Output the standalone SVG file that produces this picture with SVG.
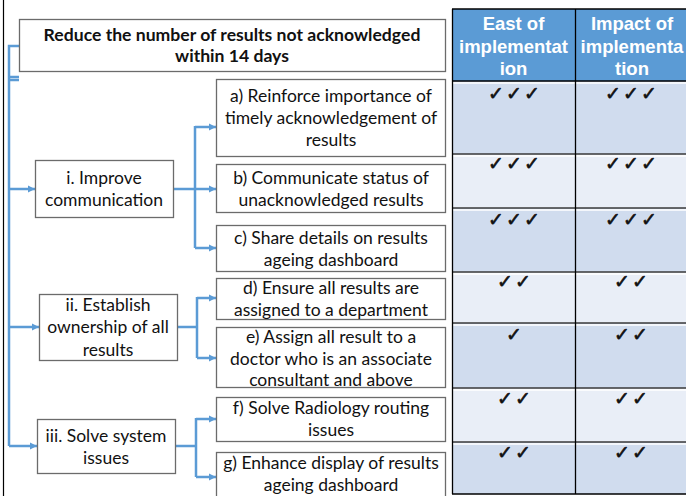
<svg xmlns="http://www.w3.org/2000/svg" width="686" height="496" viewBox="0 0 686 496">
<defs>
<marker id="ah" markerWidth="8" markerHeight="8" refX="7" refY="4" orient="auto" markerUnits="userSpaceOnUse">
<path d="M0,0.5 L7,4 L0,7.5 Z" fill="#5B9BD5"/>
</marker>
<style>
.box{fill:#fff;stroke:#6b6b6b;stroke-width:1.3}
.t{font-family:Lato,"Liberation Sans",sans-serif;font-size:17.5px;fill:#111;text-anchor:middle}
.tb{font-family:Lato,"Liberation Sans",sans-serif;font-size:17.6px;font-weight:bold;fill:#111;text-anchor:middle}
.hd{font-family:"Liberation Sans",Arial,sans-serif;font-size:18.5px;font-weight:bold;fill:#fff;text-anchor:middle}
.ck{font-family:"DejaVu Sans",sans-serif;font-size:19px;fill:#111;stroke:#111;stroke-width:0.6;text-anchor:middle;letter-spacing:2px}
.c{fill:none;stroke:#5B9BD5;stroke-width:2.5}
.ca{fill:none;stroke:#5B9BD5;stroke-width:2.5;marker-end:url(#ah)}
.dk{fill:#D0DCEE}
.lt{fill:#E9EEF7}
</style>
</defs>
<rect width="686" height="496" fill="#fff"/>
<line x1="3.5" y1="0" x2="3.5" y2="496" stroke="#000" stroke-width="1.2"/>

<g id="table">
<rect x="452" y="9" width="236" height="72" fill="#5B9BD5"/>
<rect class="dk" x="452" y="81" width="236" height="73"/>
<rect class="lt" x="452" y="154" width="236" height="54"/>
<rect class="dk" x="452" y="208" width="236" height="64"/>
<rect class="lt" x="452" y="272" width="236" height="51"/>
<rect class="dk" x="452" y="323" width="236" height="65"/>
<rect class="lt" x="452" y="388" width="236" height="54"/>
<rect class="dk" x="452" y="442" width="236" height="52"/>
<g stroke="#fff" stroke-width="1.5">
<line x1="452" y1="83" x2="686" y2="83"/>
<line x1="452" y1="156" x2="686" y2="156"/>
<line x1="452" y1="210" x2="686" y2="210"/>
<line x1="452" y1="274" x2="686" y2="274"/>
<line x1="452" y1="325" x2="686" y2="325"/>
<line x1="452" y1="390" x2="686" y2="390"/>
<line x1="452" y1="444" x2="686" y2="444"/>
</g>
<g stroke="#3a3a3a" stroke-width="1.3">
<line x1="452" y1="81" x2="686" y2="81" stroke="#000"/>
<line x1="452" y1="154" x2="686" y2="154"/>
<line x1="452" y1="208" x2="686" y2="208"/>
<line x1="452" y1="272" x2="686" y2="272"/>
<line x1="452" y1="323" x2="686" y2="323"/>
<line x1="452" y1="388" x2="686" y2="388"/>
<line x1="452" y1="442" x2="686" y2="442"/>
</g>
<g stroke="#000" stroke-width="1.3">
<line x1="452" y1="9" x2="686" y2="9"/>
<line x1="452.5" y1="9" x2="452.5" y2="494"/>
<line x1="575.5" y1="9" x2="575.5" y2="494"/>
<line x1="452" y1="494" x2="686" y2="494"/>
</g>
<text class="hd" x="513.5" y="30">East of</text>
<text class="hd" x="513.5" y="53">implementat</text>
<text class="hd" x="513.5" y="75">ion</text>
<text class="hd" x="632" y="30">Impact of</text>
<text class="hd" x="632" y="53">implementa</text>
<text class="hd" x="632" y="75">tion</text>
<text class="ck" x="515" y="100">✓✓✓</text>
<text class="ck" x="632" y="100">✓✓✓</text>
<text class="ck" x="515" y="170">✓✓✓</text>
<text class="ck" x="632" y="170">✓✓✓</text>
<text class="ck" x="515" y="226">✓✓✓</text>
<text class="ck" x="632" y="226">✓✓✓</text>
<text class="ck" x="515" y="288">✓✓</text>
<text class="ck" x="632" y="288">✓✓</text>
<text class="ck" x="515" y="341">✓</text>
<text class="ck" x="632" y="341">✓✓</text>
<text class="ck" x="515" y="405">✓✓</text>
<text class="ck" x="632" y="405">✓✓</text>
<text class="ck" x="515" y="459">✓✓</text>
<text class="ck" x="632" y="459">✓✓</text>
</g>

<g id="connectors">
<polyline class="c" points="19,46 9,46 9,446"/>
<line class="c" x1="9" y1="77" x2="19" y2="77" stroke-width="1.5"/>
<line class="c" x1="9" y1="80" x2="19" y2="80" stroke-width="1.5"/>
<line class="ca" x1="9" y1="189" x2="35" y2="189"/>
<line class="ca" x1="9" y1="327" x2="39" y2="327"/>
<line class="ca" x1="9" y1="446" x2="37" y2="446"/>
<line class="c" x1="173" y1="189" x2="195" y2="189"/>
<line class="c" x1="195" y1="126" x2="195" y2="248"/>
<line class="ca" x1="195" y1="127" x2="216" y2="127"/>
<line class="ca" x1="195" y1="189" x2="216" y2="189"/>
<line class="ca" x1="195" y1="248" x2="216" y2="248"/>
<line class="c" x1="177" y1="327" x2="197" y2="327"/>
<line class="c" x1="197" y1="297" x2="197" y2="358"/>
<line class="ca" x1="197" y1="298" x2="216" y2="298"/>
<line class="ca" x1="197" y1="358" x2="216" y2="358"/>
<line class="c" x1="175" y1="446" x2="196" y2="446"/>
<line class="c" x1="196" y1="418" x2="196" y2="477"/>
<line class="ca" x1="196" y1="419" x2="216" y2="419"/>
<line class="ca" x1="196" y1="477" x2="216" y2="477"/>
</g>

<g id="goal">
<rect class="box" x="19.5" y="19.5" width="426" height="52" stroke="#7f7f7f"/>
<text class="tb" x="232" y="41">Reduce the number of results not acknowledged</text>
<text class="tb" x="232" y="62">within 14 days</text>
</g>
<g id="i">
<rect class="box" x="35.5" y="160.5" width="138" height="57"/>
<text class="t" x="104" y="184">i. Improve</text>
<text class="t" x="104" y="206">communication</text>
</g>
<g id="ii">
<rect class="box" x="39.5" y="294.5" width="138" height="66"/>
<text class="t" x="108" y="311">ii. Establish</text>
<text class="t" x="108" y="333">ownership of all</text>
<text class="t" x="108" y="356">results</text>
</g>
<g id="iii">
<rect class="box" x="37.5" y="419.5" width="138" height="54"/>
<text class="t" x="106" y="442">iii. Solve system</text>
<text class="t" x="106" y="464">issues</text>
</g>
<g id="a">
<rect class="box" x="216.5" y="79.5" width="229" height="77"/>
<text class="t" x="331" y="102">a) Reinforce importance of</text>
<text class="t" x="331" y="124">timely acknowledgement of</text>
<text class="t" x="331" y="146">results</text>
</g>
<g id="b">
<rect class="box" x="216.5" y="164.5" width="229" height="48"/>
<text class="t" x="331" y="184">b) Communicate status of</text>
<text class="t" x="331" y="206">unacknowledged results</text>
</g>
<g id="c">
<rect class="box" x="216.5" y="225.5" width="229" height="46"/>
<text class="t" x="331" y="244">c) Share details on results</text>
<text class="t" x="331" y="266">ageing dashboard</text>
</g>
<g id="d">
<rect class="box" x="216.5" y="278.5" width="229" height="41"/>
<text class="t" x="331" y="294">d) Ensure all results are</text>
<text class="t" x="331" y="316">assigned to a department</text>
</g>
<g id="e">
<rect class="box" x="216.5" y="327.5" width="229" height="60"/>
<text class="t" x="331" y="343">e) Assign all result to a</text>
<text class="t" x="331" y="365">doctor who is an associate</text>
<text class="t" x="331" y="386">consultant and above</text>
</g>
<g id="f">
<rect class="box" x="216.5" y="397.5" width="229" height="44"/>
<text class="t" x="331" y="414">f) Solve Radiology routing</text>
<text class="t" x="331" y="436">issues</text>
</g>
<g id="g">
<rect class="box" x="216.5" y="452.5" width="229" height="50"/>
<text class="t" x="331" y="469">g) Enhance display of results</text>
<text class="t" x="331" y="491">ageing dashboard</text>
</g>
</svg>
